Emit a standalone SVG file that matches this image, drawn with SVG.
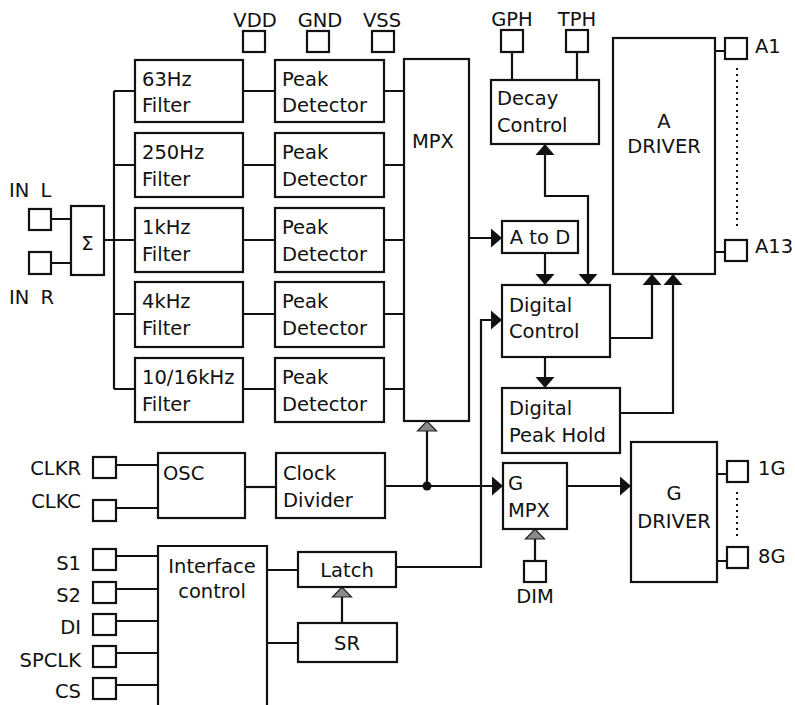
<svg xmlns="http://www.w3.org/2000/svg" width="795" height="705" viewBox="0 0 795 705">
<style>
  .bx{fill:#fff;stroke:#111;stroke-width:2.2}
  .pad{fill:#fff;stroke:#111;stroke-width:2.2}
  .t{font-family:"DejaVu Sans","Liberation Sans",sans-serif;font-size:19.5px;fill:#111}
  .m{text-anchor:middle}
  .e{text-anchor:end}
  .ln{fill:none;stroke:#111;stroke-width:2.2}
  .dot{fill:none;stroke:#111;stroke-width:2;stroke-dasharray:2 4}
  .a{marker-end:url(#arr)}
  .h{marker-end:url(#harr)}
</style>
<defs>
  <marker id="arr" markerUnits="userSpaceOnUse" markerWidth="12" markerHeight="20" refX="11" refY="9.5" orient="auto-start-reverse" overflow="visible">
    <path d="M0,0 L11,9.5 L0,19 Z" fill="#111"/>
  </marker>
  <marker id="harr" markerUnits="userSpaceOnUse" markerWidth="12" markerHeight="20" refX="10" refY="9.5" orient="auto" overflow="visible">
    <path d="M0,0 L10,9.5 L0,19 Z" fill="#8a8a8a" stroke="#222" stroke-width="1.2"/>
  </marker>
</defs>
<rect width="795" height="705" fill="#fff"/>

<g id="connectors">
  <path class="ln" d="M51,219 H71 M51,263 H71"/>
  <path class="ln" d="M104,240 H135 M114,91 V389 M114,91 H135 M114,165 H135 M114,314 H135 M114,389 H135"/>
  <path class="ln" d="M243,91 H275 M243,165 H275 M243,240 H275 M243,314 H275 M243,389 H275"/>
  <path class="ln" d="M384,91 H404 M384,165 H404 M384,240 H404 M384,314 H404 M384,389 H404"/>
  <path class="ln" d="M512,52 V80 M577,52 V80"/>
  <path class="ln a" d="M469,238 H502"/>
  <path class="ln a" d="M545,253 V285"/>
  <path class="ln" d="M545,144 V196 H588 V285" marker-start="url(#arr)" marker-end="url(#arr)"/>
  <path class="ln a" d="M545,357 V388"/>
  <path class="ln a" d="M610,338 H652 V274"/>
  <path class="ln a" d="M620,413 H673 V274"/>
  <path class="ln" d="M715,51 H725 M715,252 H725"/>
  <path class="dot" d="M737,68 V230"/>
  <path class="ln" d="M116,465 H158 M116,508 H158"/>
  <path class="ln" d="M245,487 H276"/>
  <path class="ln a" d="M385,486 H503"/>
  <circle cx="427" cy="486" r="4.5" fill="#111"/>
  <path class="ln h" d="M427,486 V421"/>
  <path class="ln" d="M116,556 H158 M116,589 H158 M116,621 H158 M116,653 H158 M116,685 H158"/>
  <path class="ln" d="M267,570 H298 M267,643 H298"/>
  <path class="ln h" d="M342,623 V587"/>
  <path class="ln a" d="M396,567 H481 V320 H502"/>
  <path class="ln a" d="M567,486 H631"/>
  <path class="ln h" d="M535,561 V529"/>
  <path class="ln" d="M717,474 H727 M717,561 H727"/>
  <path class="dot" d="M737,492 V537"/>
</g>

<g id="pad-vdd"><rect class="pad" x="243" y="31" width="22" height="21"/><text class="t m" x="255" y="27">VDD</text></g>
<g id="pad-gnd"><rect class="pad" x="307" y="31" width="22" height="21"/><text class="t m" x="320" y="27">GND</text></g>
<g id="pad-vss"><rect class="pad" x="372" y="31" width="22" height="21"/><text class="t m" x="382" y="27">VSS</text></g>
<g id="pad-gph"><rect class="pad" x="501" y="30" width="22" height="22"/><text class="t m" x="512" y="26">GPH</text></g>
<g id="pad-tph"><rect class="pad" x="566" y="30" width="22" height="22"/><text class="t m" x="577" y="26">TPH</text></g>
<g id="pad-a1"><rect class="pad" x="725" y="38" width="22" height="21"/><text class="t" x="755" y="53">A1</text></g>
<g id="pad-a13"><rect class="pad" x="725" y="240" width="22" height="21"/><text class="t" x="755" y="253">A13</text></g>
<g id="pad-1g"><rect class="pad" x="727" y="461" width="21" height="21"/><text class="t" x="758" y="475">1G</text></g>
<g id="pad-8g"><rect class="pad" x="727" y="547" width="21" height="21"/><text class="t" x="758" y="563">8G</text></g>
<g id="pad-dim"><rect class="pad" x="524" y="561" width="22" height="21"/><text class="t m" x="535" y="603">DIM</text></g>
<g id="pad-inl"><rect class="pad" x="29" y="209" width="22" height="21"/><text class="t" x="9" y="197" word-spacing="5">IN L</text></g>
<g id="pad-inr"><rect class="pad" x="29" y="252" width="22" height="22"/><text class="t" x="9" y="304" word-spacing="5">IN R</text></g>
<g id="pad-clkr"><rect class="pad" x="93" y="457" width="23" height="21"/><text class="t e" x="81" y="475">CLKR</text></g>
<g id="pad-clkc"><rect class="pad" x="93" y="500" width="23" height="21"/><text class="t e" x="81" y="508">CLKC</text></g>
<g id="pad-s1"><rect class="pad" x="93" y="549" width="23" height="21"/><text class="t e" x="81" y="570">S1</text></g>
<g id="pad-s2"><rect class="pad" x="93" y="582" width="23" height="21"/><text class="t e" x="81" y="602">S2</text></g>
<g id="pad-di"><rect class="pad" x="93" y="614" width="23" height="21"/><text class="t e" x="81" y="634">DI</text></g>
<g id="pad-spclk"><rect class="pad" x="93" y="646" width="23" height="21"/><text class="t e" x="81" y="667">SPCLK</text></g>
<g id="pad-cs"><rect class="pad" x="93" y="678" width="23" height="21"/><text class="t e" x="81" y="698">CS</text></g>

<g id="sigma"><rect class="bx" x="71" y="206" width="33" height="69"/><text class="t m" x="87.5" y="250">Σ</text></g>

<g id="filter-63"><rect class="bx" x="135" y="60" width="108" height="62"/><text class="t" x="142" y="86">63Hz</text><text class="t" x="142" y="112">Filter</text></g>
<g id="filter-250"><rect class="bx" x="135" y="133" width="108" height="64"/><text class="t" x="142" y="159">250Hz</text><text class="t" x="142" y="186">Filter</text></g>
<g id="filter-1k"><rect class="bx" x="135" y="208" width="108" height="64"/><text class="t" x="142" y="234">1kHz</text><text class="t" x="142" y="261">Filter</text></g>
<g id="filter-4k"><rect class="bx" x="135" y="282" width="108" height="65"/><text class="t" x="142" y="308">4kHz</text><text class="t" x="142" y="335">Filter</text></g>
<g id="filter-10k"><rect class="bx" x="135" y="358" width="108" height="64"/><text class="t" x="142" y="384">10/16kHz</text><text class="t" x="142" y="411">Filter</text></g>

<g id="peak-1"><rect class="bx" x="275" y="60" width="109" height="62"/><text class="t" x="282" y="86">Peak</text><text class="t" x="282" y="112">Detector</text></g>
<g id="peak-2"><rect class="bx" x="275" y="133" width="109" height="64"/><text class="t" x="282" y="159">Peak</text><text class="t" x="282" y="186">Detector</text></g>
<g id="peak-3"><rect class="bx" x="275" y="208" width="109" height="64"/><text class="t" x="282" y="234">Peak</text><text class="t" x="282" y="261">Detector</text></g>
<g id="peak-4"><rect class="bx" x="275" y="282" width="109" height="65"/><text class="t" x="282" y="308">Peak</text><text class="t" x="282" y="335">Detector</text></g>
<g id="peak-5"><rect class="bx" x="275" y="358" width="109" height="64"/><text class="t" x="282" y="384">Peak</text><text class="t" x="282" y="411">Detector</text></g>

<g id="mpx"><rect class="bx" x="404" y="59" width="65" height="362"/><text class="t" x="412" y="148">MPX</text></g>
<g id="decay"><rect class="bx" x="491" y="80" width="108" height="64"/><text class="t" x="497" y="105">Decay</text><text class="t" x="497" y="132">Control</text></g>
<g id="atod"><rect class="bx" x="502" y="221" width="76" height="32"/><text class="t m" x="540" y="244">A to D</text></g>
<g id="digctrl"><rect class="bx" x="502" y="285" width="108" height="72"/><text class="t" x="509" y="312">Digital</text><text class="t" x="509" y="338">Control</text></g>
<g id="dph"><rect class="bx" x="502" y="388" width="118" height="65"/><text class="t" x="509" y="415">Digital</text><text class="t" x="509" y="442">Peak Hold</text></g>
<g id="adriver"><rect class="bx" x="613" y="38" width="102" height="236"/><text class="t m" x="664" y="128">A</text><text class="t m" x="664" y="153">DRIVER</text></g>
<g id="gmpx"><rect class="bx" x="503" y="463" width="64" height="66"/><text class="t" x="508" y="490">G</text><text class="t" x="508" y="517">MPX</text></g>
<g id="gdriver"><rect class="bx" x="631" y="442" width="86" height="140"/><text class="t m" x="674" y="500">G</text><text class="t m" x="674" y="528">DRIVER</text></g>
<g id="osc"><rect class="bx" x="158" y="453" width="87" height="65"/><text class="t" x="163" y="480">OSC</text></g>
<g id="clockdiv"><rect class="bx" x="276" y="453" width="109" height="65"/><text class="t" x="283" y="480">Clock</text><text class="t" x="283" y="507">Divider</text></g>
<g id="interface"><path class="ln" d="M158,710 V546 H267 V710" fill="#fff"/><text class="t m" x="212" y="573">Interface</text><text class="t m" x="212" y="598">control</text></g>
<g id="latch"><rect class="bx" x="298" y="552" width="98" height="35"/><text class="t m" x="347" y="577">Latch</text></g>
<g id="sr"><rect class="bx" x="298" y="623" width="99" height="39"/><text class="t m" x="347" y="650">SR</text></g>
</svg>
